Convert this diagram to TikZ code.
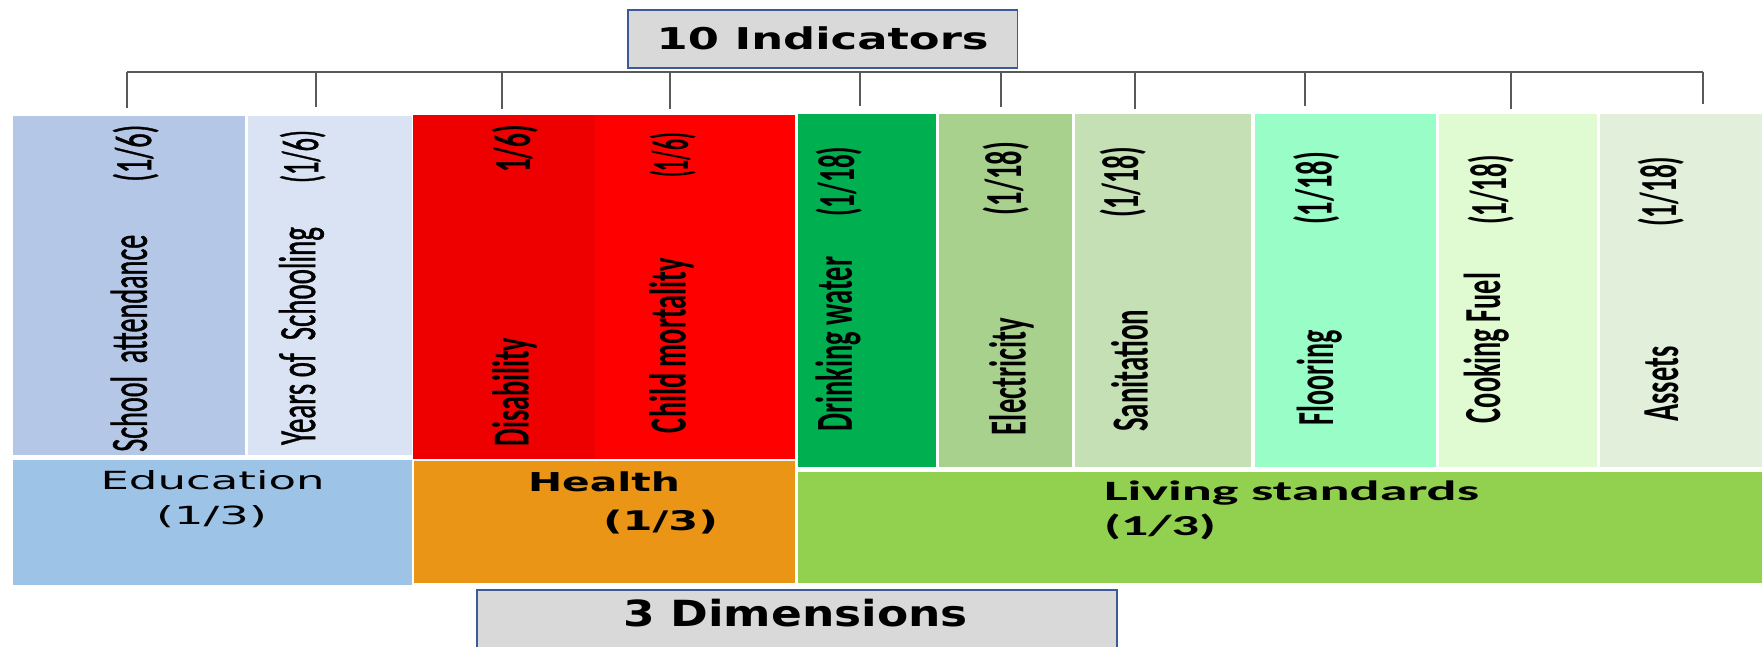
\documentclass[tikz,border=0pt]{standalone}
\usepackage{fontspec}
\usepackage{graphicx}
\newfontfamily\calfont{Carlito}
\newfontfamily\calmedium[FakeBold=1.2]{Carlito}
\newfontfamily\dvfont{DejaVu Sans}
% stretch a text along its baseline to a given length, keeping its height
\newcommand\fitw[2]{\resizebox{#1}{\height}{#2}}

\definecolor{schoolc}{HTML}{B4C7E7}
\definecolor{yearsc}{HTML}{DAE3F3}
\definecolor{disabc}{HTML}{EE0000}
\definecolor{childc}{HTML}{FF0000}
\definecolor{waterc}{HTML}{00B050}
\definecolor{electc}{HTML}{A9D18E}
\definecolor{sanitc}{HTML}{C5E0B4}
\definecolor{floorc}{HTML}{99FDC8}
\definecolor{fuelc}{HTML}{E0FAD2}
\definecolor{assetc}{HTML}{E2EFDA}
\definecolor{educc}{HTML}{9DC3E6}
\definecolor{healthc}{HTML}{EB9516}
\definecolor{livingc}{HTML}{92D050}
\definecolor{panelc}{HTML}{D9D9D9}
\definecolor{frame}{HTML}{3A5A9A}
\definecolor{tickc}{HTML}{595959}

\tikzset{
  cell/.style={rectangle, draw=none, inner sep=0pt, outer sep=0pt, anchor=north west},
  graybox/.style={rectangle, fill=panelc, draw=frame, line width=1.6pt, inner sep=0pt, anchor=north west},
  vtext/.style={rotate=90, anchor=base west, inner sep=0pt, outer sep=0pt,
                font=\calmedium\fontsize{52}{60}\selectfont},
  vbold/.style={vtext, font=\calfont\bfseries\fontsize{52}{60}\selectfont},
  htext/.style={anchor=base west, inner sep=0pt, outer sep=0pt},
  tickline/.style={draw=tickc, line width=1.5pt},
}

\begin{document}
\begin{tikzpicture}[x=1pt,y=-1pt]
\useasboundingbox (0,0) rectangle (1762,647);
\clip (0,0) rectangle (1762,647);

% ---- indicator cells ----
\node[cell, fill=schoolc, minimum width=232.3pt, minimum height=339pt] (school) at (12.7,116) {};
\node[cell, fill=yearsc,  minimum width=164.3pt, minimum height=339pt] (years)  at (247.7,116) {};
\node[cell, fill=disabc,  minimum width=181.6pt, minimum height=344pt] (disab)  at (413,115) {};
\node[cell, fill=childc,  minimum width=200.4pt, minimum height=344pt] (child)  at (594.6,115) {};
\node[cell, fill=waterc,  minimum width=138pt,   minimum height=353pt] (water)  at (797.5,114) {};
\node[cell, fill=electc,  minimum width=133.5pt, minimum height=353pt] (elect)  at (938.5,114) {};
\node[cell, fill=sanitc,  minimum width=176pt,   minimum height=353pt] (sanit)  at (1075,114) {};
\node[cell, fill=floorc,  minimum width=181pt,   minimum height=353pt] (floor)  at (1254.5,114) {};
\node[cell, fill=fuelc,   minimum width=158.5pt, minimum height=353pt] (fuel)   at (1438.5,114) {};
\node[cell, fill=assetc,  minimum width=162pt,   minimum height=353pt] (asset)  at (1600,114) {};

% ---- dimension cells ----
\node[cell, fill=educc,   minimum width=399.4pt, minimum height=125pt] (educ)   at (12.6,460) {};
\node[cell, fill=healthc, minimum width=380.5pt, minimum height=122pt] (health) at (414,461) {};
\node[cell, fill=livingc, minimum width=964pt,   minimum height=111pt] (living) at (798,472) {};

% ---- header and footer panels ----
\node[graybox, minimum width=389.5pt, minimum height=58pt] (ind) at (627,9)
  {\dvfont\bfseries\fontsize{30}{34}\selectfont\fitw{332pt}{10 Indicators}};
\node[graybox, minimum width=640pt, minimum height=90pt] (dims) at (476,589) {};
\node[htext, font=\dvfont\bfseries\fontsize{36}{40}\selectfont] (dimsT) at (623,626.7)
  {\fitw{345pt}{3 Dimensions}};

% ---- bracket from the header to the ten indicators ----
\coordinate (hubL) at (127,72);
\coordinate (hubR) at (1703,72);
\draw[tickline] (hubL) -- (hubR);
\foreach \i/\x/\yb in {1/127/108, 2/316/107, 3/502/109, 4/670/109, 5/860/106,
                       6/1001/107, 7/1135/109, 8/1305/106, 9/1511/109, 10/1703/104} {
  \coordinate (tTop\i) at (\x,72);
  \coordinate (tEnd\i) at (\x,\yb);
  \draw[tickline] (tTop\i) -- (tEnd\i);
}

% ---- indicator labels (rotated) ----
\node[vtext] (lSchool) at (146.7,451.7) {\fitw{217pt}{School\ \ attendance}};
\node[vtext] (wSchool) at (151,181.7)   {\fitw{57pt}{(1/6)}};
\node[vtext] (lYears)  at (315,445)     {\fitw{218pt}{Years of\ \ Schooling}};
\node[vtext] (wYears)  at (318,183)     {\fitw{53pt}{(1/6)}};
\node[vbold] (lDisab)  at (528.6,446.7) {\fitw{109pt}{Disability}};
\node[vbold] (wDisab)  at (530,173)     {\fitw{48pt}{1/6)}};
\node[vbold] (lChild)  at (685.7,433)   {\fitw{175pt}{Child mortality}};
\node[vbold] (wChild)  at (688,178)     {\fitw{45pt}{(1/6)}};
\node[vbold] (lWater)  at (851.8,431.7) {\fitw{175pt}{Drinking water}};
\node[vbold] (wWater)  at (854,216.7)   {\fitw{70pt}{(1/18)}};
\node[vbold] (lElect)  at (1025.5,435)  {\fitw{117pt}{Electricity}};
\node[vbold] (wElect)  at (1021,215)    {\fitw{73pt}{(1/18)}};
\node[vbold] (lSanit)  at (1147.5,431.7){\fitw{122pt}{Sanitation}};
\node[vbold] (wSanit)  at (1138,218)    {\fitw{71pt}{(1/18)}};
\node[vbold] (lFloor)  at (1333,425)    {\fitw{95pt}{Flooring}};
\node[vbold] (wFloor)  at (1331.5,225)  {\fitw{73pt}{(1/18)}};
\node[vbold] (lFuel)   at (1500,423)    {\fitw{150pt}{Cooking Fuel}};
\node[vbold] (wFuel)   at (1506,225)    {\fitw{70pt}{(1/18)}};
\node[vbold] (lAsset)  at (1678,421.7)  {\fitw{75pt}{Assets}};
\node[vbold] (wAsset)  at (1676,226.7)  {\fitw{70pt}{(1/18)}};

% ---- dimension labels ----
\node[htext, font=\dvfont\fontsize{25}{30}\selectfont] (lEduc) at (100.5,489.3)
  {\fitw{224pt}{Education}};
\node[htext, font=\dvfont\fontsize{25}{30}\selectfont] (wEduc) at (156,524)
  {\fitw{111pt}{(1/3)}};
\node[htext, font=\dvfont\bfseries\fontsize{26}{30}\selectfont] (lHealth) at (528,491.7)
  {\fitw{152pt}{Health}};
\node[htext, font=\dvfont\bfseries\fontsize{27}{30}\selectfont] (wHealth) at (603,530.7)
  {\fitw{115pt}{(1/3)}};
\node[htext, font=\calfont\bfseries\fontsize{28}{32}\selectfont] (lLiving) at (1104,500)
  {\fitw{375pt}{Living standards}};
\node[htext, font=\calfont\bfseries\fontsize{29}{32}\selectfont] (wLiving) at (1104,535.7)
  {\fitw{112pt}{(1/3)}};
\end{tikzpicture}
\end{document}
